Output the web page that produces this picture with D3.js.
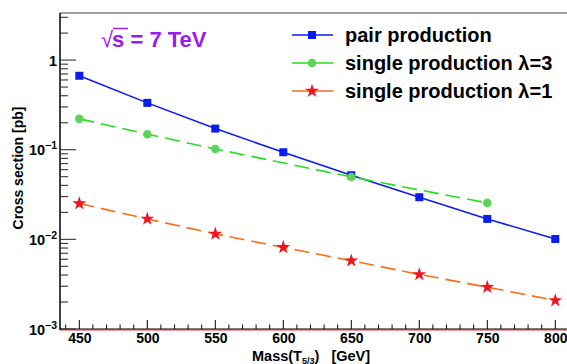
<!DOCTYPE html>
<html><head><meta charset="utf-8">
<script src="https://cdn.jsdelivr.net/npm/d3@7"></script>
<style>
html,body{margin:0;padding:0;background:#fff;}
svg{display:block;font-family:"Liberation Sans",Arial,Helvetica,sans-serif;font-weight:bold;}
</style></head>
<body>
<svg id="c" width="567" height="364"></svg>
<script>
// Data
const pairMass = [450, 500, 550, 600, 650, 700, 750, 800];
const pairXS = [0.668, 0.333, 0.172, 0.0937, 0.0519, 0.0295, 0.0169, 0.0101];
const single3Mass = [450, 500, 550, 650, 750];
const single3XS = [0.221, 0.149, 0.102, 0.0497, 0.0255];
const single1Mass = [450, 500, 550, 600, 650, 700, 750, 800];
const single1XS = [0.0251, 0.0169, 0.0115, 0.00814, 0.00578, 0.00406, 0.00293, 0.00208];
const xTicks = [450, 500, 550, 600, 650, 700, 750, 800];
const yDecades = [1e-3, 1e-2, 1e-1, 1];
const yTickLabels = ["10^-3", "10^-2", "10^-1", "1"];
const legendLabels = ["pair production", "single production λ=3", "single production λ=1"];

const svg = d3.select("#c");
const L = 60, R = 575, T = 13, B = 329;
const x = d3.scaleLinear().domain([435.8, 814.5]).range([L, R]);
const y = d3.scaleLog().domain([1e-3, 3.35]).range([B, T]);

// frame
svg.append("line").attr("x1", L).attr("x2", 567).attr("y1", T).attr("y2", T).attr("stroke", "#444").attr("stroke-width", 1.2);
svg.append("line").attr("x1", L).attr("x2", 567).attr("y1", B + 1).attr("y2", B + 1).attr("stroke", "#e8303a").attr("stroke-width", 1);

// x axis
const xAxis = d3.axisBottom(x).tickValues(xTicks).tickSize(0).tickPadding(4).tickFormat(d3.format("d"));
const gx = svg.append("g").attr("transform", `translate(0,${B})`).call(xAxis);
gx.select(".domain").remove();
gx.selectAll("text").attr("font-size", 14).attr("font-weight", "bold").attr("fill", "#000").attr("font-family", "Liberation Sans, Arial, sans-serif");
const xMinor = d3.range(440, 815, 10);
svg.append("g").selectAll("line").data(xMinor).join("line")
  .attr("x1", d => x(d)).attr("x2", d => x(d))
  .attr("y1", B).attr("y2", d => B - (d % 50 === 0 ? 9 : 4.5))
  .attr("stroke", "#000").attr("stroke-width", 1);
svg.append("line").attr("x1", L).attr("x2", 567).attr("y1", B).attr("y2", B).attr("stroke", "#000").attr("stroke-width", 1.2);

// y axis
svg.append("line").attr("x1", L).attr("x2", L).attr("y1", T).attr("y2", B + 1).attr("stroke", "#000").attr("stroke-width", 1.5);
const yMinor = [];
for (const dec of [1e-3, 1e-2, 1e-1, 1]) for (let k = 1; k <= 9; k++) { const v = dec * k; if (v <= 3.35) yMinor.push(v); }
svg.append("g").selectAll("line").data(yMinor).join("line")
  .attr("x1", L).attr("x2", d => L + (Math.abs(Math.log10(d) - Math.round(Math.log10(d))) < 1e-9 ? 16 : 8))
  .attr("y1", d => y(d)).attr("y2", d => y(d))
  .attr("stroke", "#333").attr("stroke-width", 1.1);
const yl = svg.append("g").selectAll("text").data(yDecades).join("text")
  .attr("x", 57).attr("y", d => y(d) + 5.5).attr("text-anchor", "end").attr("font-size", 14.5);
yl.each(function(d, i) {
  const s = yTickLabels[i];
  const t = d3.select(this);
  if (s.includes("^")) {
    const [b, e] = s.split("^");
    t.append("tspan").text(b);
    t.append("tspan").attr("dy", -6).attr("font-size", 10.5).text(e.replace("-", "−"));
  } else t.text(s);
});

// axis titles
svg.append("text").attr("transform", "translate(23,168) rotate(-90)").attr("text-anchor", "middle").attr("font-size", 14).text("Cross section [pb]");
const xt = svg.append("text").attr("x", 252).attr("y", 361).attr("font-size", 14.5);
xt.append("tspan").text("Mass(T");
xt.append("tspan").attr("dy", 2.5).attr("font-size", 9).text("5/3");
xt.append("tspan").attr("dy", -2.5).text(")\u00a0\u00a0\u00a0[GeV]");

// title
const tg = svg.append("text").attr("x", 101).attr("y", 47).attr("font-size", 22).attr("fill", "#9a1af2");
tg.append("tspan").attr("font-weight", "normal").text("√");
tg.append("tspan").attr("dx", -1).text("s = 7 TeV");
svg.append("line").attr("x1", 113).attr("x2", 128).attr("y1", 28.5).attr("y2", 28.5).attr("stroke", "#9a1af2").attr("stroke-width", 1.5);

// series
const line = d3.line().x(d => x(d[0])).y(d => y(d[1]));
const pair = pairMass.map((m, i) => [m, pairXS[i]]);
const s3 = single3Mass.map((m, i) => [m, single3XS[i]]);
const s1 = single1Mass.map((m, i) => [m, single1XS[i]]);

svg.append("path").datum(pair).attr("d", line).attr("fill", "none").attr("stroke", "#0a1cf0").attr("stroke-width", 1.6);
svg.append("path").datum(s3).attr("d", line).attr("fill", "none").attr("stroke", "#22e01e").attr("stroke-width", 1.6).attr("stroke-dasharray", "15,7");
svg.append("path").datum(s1).attr("d", line).attr("fill", "none").attr("stroke", "#ff6a14").attr("stroke-width", 1.6).attr("stroke-dasharray", "15,7");

const star = d3.symbol().type(d3.symbolStar).size(60);
function squares(g, data) {
  g.selectAll("rect").data(data).join("rect")
    .attr("x", d => x(d[0]) - 4).attr("y", d => y(d[1]) - 4).attr("width", 8).attr("height", 8).attr("fill", "#0a1cf0");
}
function circles(g, data) {
  g.selectAll("circle").data(data).join("circle")
    .attr("cx", d => x(d[0])).attr("cy", d => y(d[1])).attr("r", 4.3).attr("fill", "#5dd35a");
}
function stars(g, data) {
  g.selectAll("path").data(data).join("path")
    .attr("transform", d => `translate(${x(d[0])},${y(d[1])})`).attr("d", star).attr("fill", "#f0141e");
}
squares(svg.append("g"), pair);
circles(svg.append("g"), s3);
stars(svg.append("g"), s1);

// legend
const legY = [35, 63, 91];
const legColors = ["#0a1cf0", "#22e01e", "#ff6a14"];
legendLabels.forEach((lab, i) => {
  const g = svg.append("g").attr("transform", `translate(0,${legY[i]})`);
  g.append("line").attr("x1", 292).attr("x2", 333).attr("y1", 0).attr("y2", 0).attr("stroke", legColors[i]).attr("stroke-width", 1.6);
  if (i === 0) g.append("rect").attr("x", 308).attr("y", -4).attr("width", 8).attr("height", 8).attr("fill", legColors[0]);
  if (i === 1) g.append("circle").attr("cx", 312).attr("cy", 0).attr("r", 4.3).attr("fill", "#5dd35a");
  if (i === 2) g.append("path").attr("transform", "translate(312,0)").attr("d", star).attr("fill", "#f0141e");
  g.append("text").attr("x", 345).attr("y", 7).attr("font-size", 20).text(lab);
});
</script>
</body></html>
